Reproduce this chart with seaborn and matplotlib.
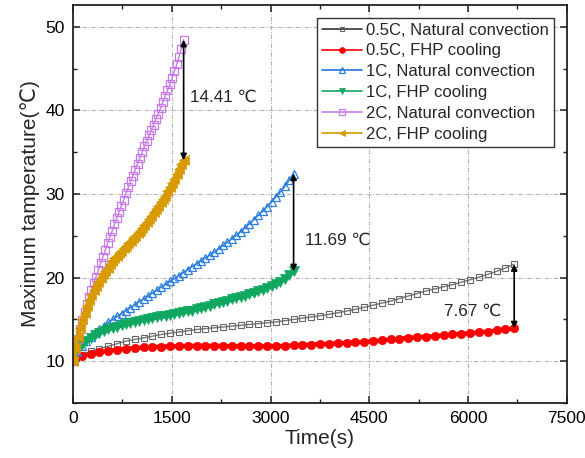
import matplotlib
matplotlib.use("Agg")
import matplotlib.pyplot as plt
import seaborn as sns
import pandas as pd
from matplotlib.ticker import MultipleLocator

# ---------------- data ----------------
t_05 = [0, 134, 268, 402, 536, 670, 804, 938, 1072, 1206, 1340, 1474, 1608, 1742, 1876,
        2010, 2144, 2278, 2412, 2546, 2680, 2814, 2948, 3082, 3216, 3350, 3484, 3618, 3752,
        3886, 4020, 4154, 4288, 4422, 4556, 4690, 4824, 4958, 5092, 5226, 5360, 5494, 5628,
        5762, 5896, 6030, 6164, 6298, 6432, 6566, 6700]
nat_05 = [10.0, 10.8, 11.2, 11.5, 11.8, 12.1, 12.4, 12.6, 12.8, 13.0, 13.2, 13.35, 13.5, 13.65,
          13.8, 13.9, 14.0, 14.1, 14.2, 14.3, 14.4, 14.5, 14.6, 14.7, 14.85, 15.0, 15.15, 15.3,
          15.45, 15.6, 15.8, 16.0, 16.2, 16.45, 16.7, 16.95, 17.2, 17.5, 17.8, 18.1, 18.4, 18.65,
          18.9, 19.15, 19.45, 19.75, 20.05, 20.4, 20.75, 21.15, 21.6]
fhp_05 = [10.0, 10.6, 10.9, 11.1, 11.25, 11.4, 11.5, 11.6, 11.65, 11.7, 11.75, 11.8, 11.8, 11.85,
          11.85, 11.85, 11.85, 11.85, 11.8, 11.8, 11.8, 11.8, 11.8, 11.8, 11.85, 11.9, 11.95,
          12.0, 12.05, 12.1, 12.15, 12.2, 12.25, 12.3, 12.4, 12.5, 12.6, 12.7, 12.8, 12.9, 12.95,
          13.0, 13.1, 13.2, 13.3, 13.35, 13.45, 13.55, 13.7, 13.8, 13.93]

t_1 = [0, 67, 134, 201, 268, 335, 402, 469, 536, 603, 670, 737, 804, 871, 938, 1005, 1072,
       1139, 1206, 1273, 1340, 1407, 1474, 1541, 1608, 1675, 1742, 1809, 1876, 1943, 2010,
       2077, 2144, 2211, 2278, 2345, 2412, 2479, 2546, 2613, 2680, 2747, 2814, 2881, 2948,
       3015, 3082, 3149, 3216, 3283, 3350]
nat_1 = [10.0, 11.1, 11.8, 12.4, 12.9, 13.4, 13.85, 14.25, 14.65, 15.0, 15.35, 15.7, 16.05,
         16.4, 16.75, 17.1, 17.45, 17.8, 18.15, 18.5, 18.85, 19.2, 19.55, 19.9, 20.25, 20.6,
         20.95, 21.3, 21.65, 22.0, 22.35, 22.7, 23.05, 23.45, 23.85, 24.25, 24.65, 25.05, 25.5,
         25.95, 26.45, 26.95, 27.45, 27.95, 28.5, 29.05, 29.65, 30.25, 30.9, 31.65, 32.45]
fhp_1 = [10.0, 11.3, 11.9, 12.4, 12.8, 13.1, 13.4, 13.6, 13.8, 14.0, 14.15, 14.3, 14.45, 14.6,
         14.75, 14.85, 14.95, 15.05, 15.15, 15.25, 15.35, 15.45, 15.55, 15.65, 15.75, 15.85,
         15.95, 16.05, 16.2, 16.35, 16.5, 16.65, 16.8, 16.95, 17.1, 17.25, 17.4, 17.55, 17.7,
         17.85, 18.0, 18.15, 18.35, 18.55, 18.75, 18.95, 19.2, 19.5, 19.85, 20.3, 20.76]

t_2 = [0, 35, 70, 105, 140, 175, 210, 245, 280, 315, 350, 385, 420, 455, 490, 525, 560, 595,
       630, 665, 700, 735, 770, 805, 840, 875, 910, 945, 980, 1015, 1050, 1085, 1120, 1155,
       1190, 1225, 1260, 1295, 1330, 1365, 1400, 1435, 1470, 1505, 1540, 1575, 1610, 1645, 1680]
nat_2 = [10.0, 11.3, 12.6, 13.8, 14.9, 15.9, 16.8, 17.7, 18.5, 19.3, 20.1, 20.9, 21.7, 22.5,
         23.3, 24.1, 24.9, 25.6, 26.4, 27.1, 27.9, 28.6, 29.3, 30.1, 30.8, 31.5, 32.2, 32.9,
         33.6, 34.3, 35.0, 35.7, 36.3, 37.0, 37.6, 38.3, 39.0, 39.6, 40.3, 41.0, 41.7, 42.4,
         43.1, 43.9, 44.7, 45.5, 46.4, 47.4, 48.45]
fhp_2 = [10.0, 11.6, 12.9, 14.0, 15.0, 15.8, 16.6, 17.3, 17.9, 18.5, 19.0, 19.5, 20.0, 20.4,
         20.8, 21.2, 21.6, 22.0, 22.3, 22.6, 22.9, 23.2, 23.5, 23.8, 24.1, 24.4, 24.7, 25.0,
         25.3, 25.6, 25.9, 26.3, 26.6, 27.0, 27.4, 27.8, 28.2, 28.6, 29.0, 29.4, 29.8, 30.3,
         30.8, 31.3, 31.8, 32.4, 33.0, 33.6, 34.04]

labels = ["0.5C, Natural convection", "0.5C, FHP cooling",
          "1C, Natural convection", "1C, FHP cooling",
          "2C, Natural convection", "2C, FHP cooling"]
diff_labels = ["7.67 \u2103", "11.69 \u2103", "14.41 \u2103"]

# ---------------- style ----------------
sns.set_theme(style="ticks")
plt.rcParams["font.family"] = ["Liberation Sans", "DejaVu Sans"]
plt.rcParams["axes.linewidth"] = 1.3
plt.rcParams["axes.edgecolor"] = "#222222"

fig = plt.figure(figsize=(5.85, 4.58), dpi=100)
ax = fig.add_axes([0.1248, 0.120, 0.969 - 0.1248, 0.989 - 0.120])

series = [
    (t_05, nat_05, labels[0], dict(color="#777777", marker="s", ms=4.3, mfc="none", mec="#666666", mew=0.8, lw=1.0)),
    (t_05, fhp_05, labels[1], dict(color="#ff0000", marker="o", ms=6.0, mfc="#ff0000", mec="#ff0000", mew=0.5, lw=3.0)),
    (t_1, nat_1, labels[2], dict(color="#1f74dc", marker="^", ms=6.0, mfc="none", mec="#2a7fe0", mew=0.9, lw=1.0)),
    (t_1, fhp_1, labels[3], dict(color="#10a860", marker="v", ms=7.0, mfc="#10a860", mec="#10a860", mew=0.5, lw=3.5)),
    (t_2, nat_2, labels[4], dict(color="#c77be8", marker="s", ms=5.2, mfc="none", mec="#c77be8", mew=0.9, lw=1.0)),
    (t_2, fhp_2, labels[5], dict(color="#d99a00", marker="<", ms=7.0, mfc="#d99a00", mec="#d99a00", mew=0.5, lw=3.5)),
]

for tx, ty, lab, kw in series:
    df = pd.DataFrame({"t": tx, "T": ty})
    sns.lineplot(data=df, x="t", y="T", ax=ax, label=lab, sort=False, **kw)

# arrows between natural and FHP end values
pairs = [(t_05[-1], nat_05[-1], fhp_05[-1]),
         (t_1[-1], nat_1[-1], fhp_1[-1]),
         (t_2[-1], nat_2[-1], fhp_2[-1])]
for tx, top, bot in pairs:
    ax.annotate("", xy=(tx, bot), xytext=(tx, top),
                arrowprops=dict(arrowstyle="<|-|>", color="black", lw=1.2,
                                mutation_scale=9, shrinkA=0, shrinkB=0), zorder=5)

ax.text(6513, 16.0, diff_labels[0], ha="right", va="center", fontsize=12.3)
ax.text(3530, 24.5, diff_labels[1], ha="left", va="center", fontsize=12.3)
ax.text(1780, 41.6, diff_labels[2], ha="left", va="center", fontsize=12.3)

ax.set_xlim(0, 7500)
ax.set_ylim(5, 52.6)
ax.xaxis.set_major_locator(MultipleLocator(1500))
ax.xaxis.set_minor_locator(MultipleLocator(750))
ax.yaxis.set_major_locator(MultipleLocator(10))
ax.yaxis.set_minor_locator(MultipleLocator(5))
ax.tick_params(which="both", direction="in", top=True, right=True, colors="#222222",
               labelcolor="black", labelsize=12.5)
ax.tick_params(which="major", length=5, width=1.1, pad=6)
ax.tick_params(which="minor", length=3, width=1.0)
ax.grid(True, which="major", linestyle=(0, (4, 1.5, 1, 1.5)), color="#b5b5b5", lw=0.8)
ax.set_axisbelow(True)

ax.set_xlabel("Time(s)", fontsize=15, labelpad=2)
ax.set_ylabel("Maximum tamperature(\u2103)", fontsize=15, labelpad=4)

leg = ax.legend(loc="upper right", fontsize=12, frameon=True, fancybox=False,
                edgecolor="#333333", framealpha=1, handlelength=2.4, handletextpad=0.25,
                labelspacing=0.35, borderpad=0.3, borderaxespad=0.75, markerscale=0.7)
leg.get_frame().set_linewidth(1.0)
legend_line_colors = ["#333333", "#ff0000", "#1f74dc", "#10a860", "#c77be8", "#d99a00"]
for h, c in zip(leg.legend_handles, legend_line_colors):
    h.set_linewidth(1.2)
    h.set_color(c)

fig.savefig("out.png", dpi=100)
